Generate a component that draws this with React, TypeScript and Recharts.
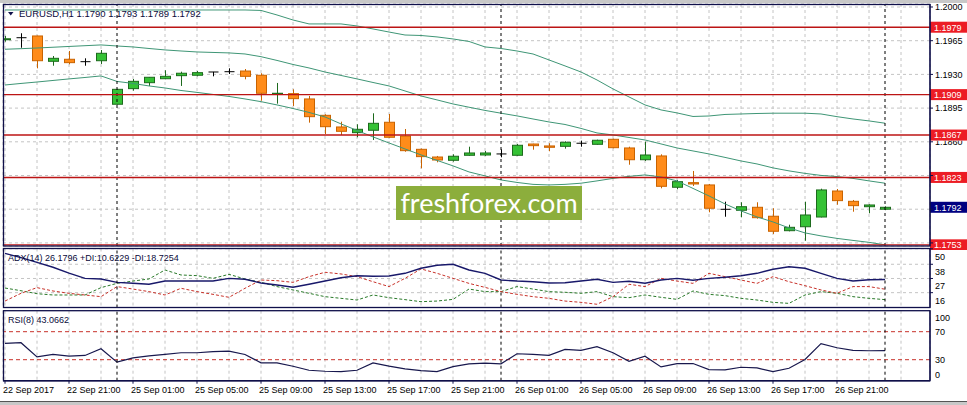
import React from "react";
import { ComposedChart, Bar, Line, XAxis, YAxis, CartesianGrid, ReferenceLine } from "recharts";

// EURUSD H1, 22 Sep 17:00 .. 27 Sep 00:00
const opens = [1.1966, 1.19681, 1.19699, 1.19436, 1.19457, 1.19432, 1.19442, 1.1899, 1.19152, 1.19214, 1.19255, 1.19287, 1.19291, 1.19325, 1.19328, 1.19335, 1.19291, 1.19093, 1.191, 1.19045, 1.18875, 1.18754, 1.18695, 1.1872, 1.18803, 1.1866, 1.18522, 1.18442, 1.18408, 1.1846, 1.18463, 1.18474, 1.1846, 1.18577, 1.18557, 1.18553, 1.18585, 1.18574, 1.18626, 1.18536, 1.18414, 1.18453, 1.18128, 1.18176, 1.18152, 1.17899, 1.17889, 1.1792, 1.17827, 1.17677, 1.17718, 1.17819, 1.18089, 1.17982, 1.17926, 1.179];
const highs = [1.197, 1.19727, 1.19702, 1.19491, 1.19543, 1.19467, 1.19553, 1.1915, 1.19252, 1.19273, 1.19343, 1.19328, 1.19335, 1.19326, 1.19363, 1.19356, 1.19312, 1.19211, 1.19145, 1.19076, 1.18886, 1.18809, 1.18782, 1.18896, 1.18889, 1.18733, 1.1853, 1.18453, 1.1847, 1.18549, 1.18505, 1.18522, 1.18577, 1.1858, 1.18585, 1.18605, 1.18612, 1.18622, 1.18632, 1.18549, 1.18601, 1.1847, 1.18204, 1.18297, 1.18162, 1.17978, 1.17972, 1.17972, 1.1791, 1.17739, 1.17978, 1.18113, 1.1811, 1.17996, 1.17951, 1.1793];
const lows = [1.1964, 1.19577, 1.19363, 1.1939, 1.19405, 1.1939, 1.19408, 1.18985, 1.19131, 1.1918, 1.1925, 1.1918, 1.1928, 1.1928, 1.19304, 1.19249, 1.19027, 1.18996, 1.18972, 1.18799, 1.18681, 1.18671, 1.18647, 1.18619, 1.1864, 1.18497, 1.18325, 1.18387, 1.18394, 1.18456, 1.18453, 1.18439, 1.18455, 1.18518, 1.18502, 1.18529, 1.18549, 1.1857, 1.18533, 1.18362, 1.18401, 1.18117, 1.18107, 1.18141, 1.17868, 1.17822, 1.17816, 1.17802, 1.17643, 1.1767, 1.17573, 1.17815, 1.17947, 1.17874, 1.17858, 1.1789];
const closes = [1.1967, 1.19681, 1.19442, 1.19467, 1.19422, 1.19432, 1.19519, 1.19145, 1.19228, 1.1927, 1.1928, 1.19312, 1.19318, 1.19325, 1.19328, 1.1928, 1.19104, 1.19104, 1.19048, 1.18861, 1.18757, 1.18709, 1.1873, 1.18792, 1.18647, 1.18508, 1.18446, 1.18411, 1.1845, 1.18484, 1.18484, 1.18474, 1.18564, 1.1856, 1.18543, 1.18595, 1.18585, 1.18616, 1.18539, 1.18414, 1.18463, 1.18138, 1.18186, 1.18162, 1.1791, 1.17899, 1.17926, 1.17812, 1.17671, 1.17712, 1.1784, 1.181, 1.17989, 1.17937, 1.17944, 1.1792];

// Bollinger bands
const bbUpper = [1.19969, 1.19969, 1.19969, 1.19969, 1.19969, 1.19969, 1.19969, 1.19969, 1.19969, 1.19969, 1.19969, 1.19969, 1.19969, 1.19969, 1.19969, 1.19969, 1.19964, 1.19917, 1.19865, 1.19824, 1.19824, 1.19824, 1.19803, 1.19772, 1.1974, 1.19709, 1.19704, 1.19689, 1.19668, 1.19642, 1.19585, 1.19569, 1.19543, 1.19512, 1.1945, 1.19388, 1.19325, 1.19242, 1.19149, 1.19066, 1.18983, 1.18931, 1.189, 1.18863, 1.18868, 1.18884, 1.18889, 1.18894, 1.18897, 1.18897, 1.18897, 1.18889, 1.18861, 1.18837, 1.18817, 1.18793];
const bbMiddle = [1.19561, 1.19567, 1.19574, 1.19582, 1.1959, 1.19598, 1.19606, 1.19595, 1.19585, 1.19569, 1.19554, 1.19543, 1.19533, 1.19528, 1.19523, 1.19512, 1.19484, 1.19445, 1.19403, 1.19367, 1.19325, 1.19289, 1.19253, 1.19216, 1.1918, 1.19128, 1.19076, 1.19035, 1.18993, 1.18959, 1.18926, 1.18897, 1.18869, 1.18837, 1.18806, 1.1878, 1.18739, 1.18692, 1.18671, 1.18645, 1.18619, 1.18578, 1.18536, 1.18505, 1.18474, 1.18438, 1.18401, 1.1837, 1.18329, 1.18298, 1.18272, 1.18251, 1.18239, 1.1822, 1.18194, 1.1817];
const bbLower = [1.1919, 1.19206, 1.19221, 1.19237, 1.19253, 1.19268, 1.19284, 1.19227, 1.19206, 1.1918, 1.19159, 1.19133, 1.19113, 1.19092, 1.19071, 1.19045, 1.19017, 1.18983, 1.18946, 1.18905, 1.18858, 1.18786, 1.18718, 1.18651, 1.18588, 1.18526, 1.18464, 1.18407, 1.1835, 1.18287, 1.18246, 1.18204, 1.18178, 1.18158, 1.18152, 1.18158, 1.1817, 1.18194, 1.1822, 1.18241, 1.18256, 1.18235, 1.18194, 1.18116, 1.18038, 1.17955, 1.17882, 1.1782, 1.17768, 1.17706, 1.17654, 1.17623, 1.17597, 1.17576, 1.17556, 1.1753];

// ADX(14)
const adxMain = [46.5, 43.1, 39.5, 35.7, 31.2, 27.1, 26.6, 24.0, 23.3, 22.5, 25.0, 25.0, 25.0, 25.0, 27.1, 26.4, 23.5, 21.9, 20.2, 22.5, 25.0, 27.6, 29.1, 28.7, 28.9, 31.0, 34.9, 37.2, 38.0, 33.6, 31.0, 25.8, 25.0, 24.5, 23.5, 23.7, 25.0, 26.4, 24.0, 24.8, 23.3, 25.8, 27.1, 25.6, 27.1, 27.9, 29.1, 31.0, 34.1, 36.1, 34.9, 31.0, 27.1, 25.0, 26.0, 26.2];
const plusDi = [19.6, 17.5, 15.2, 14.2, 14.2, 14.2, 19.9, 23.2, 25.0, 26.6, 33.6, 29.7, 29.2, 27.1, 30.2, 26.6, 24.0, 20.7, 18.1, 15.5, 12.9, 11.6, 10.3, 14.2, 12.1, 10.6, 9.0, 9.5, 10.8, 18.8, 16.8, 16.8, 20.7, 18.8, 16.8, 16.3, 15.5, 16.8, 12.9, 12.1, 14.2, 12.4, 10.8, 17.3, 14.7, 13.7, 11.6, 10.3, 8.5, 7.7, 14.2, 16.8, 15.5, 12.9, 11.6, 10.6];
const minusDi = [9.5, 15.5, 19.9, 17.3, 15.5, 14.2, 12.9, 20.7, 18.8, 16.8, 14.2, 19.4, 16.8, 14.7, 12.4, 19.4, 25.8, 25.3, 24.0, 28.4, 31.8, 30.5, 28.4, 24.5, 20.7, 27.1, 34.4, 31.0, 27.1, 23.2, 20.1, 16.8, 14.7, 12.9, 11.6, 9.5, 8.5, 7.0, 12.9, 22.5, 20.7, 27.1, 25.0, 23.2, 31.0, 28.4, 25.8, 23.2, 28.4, 24.5, 21.4, 18.1, 15.5, 20.7, 20.7, 18.7];

// RSI(8)
const rsi = [53.4, 54.3, 34.1, 37.5, 35.1, 36.1, 45.7, 26.5, 32.7, 35.6, 37.5, 39.9, 39.9, 41.4, 42.3, 37.5, 25.5, 25.5, 20.7, 14.9, 13.5, 13.0, 14.9, 25.5, 20.7, 16.9, 14.4, 13.0, 20.2, 24.1, 25.0, 24.1, 38.5, 37.5, 36.1, 44.7, 43.3, 48.6, 39.9, 27.8, 35.1, 19.7, 24.5, 24.5, 15.9, 15.4, 19.2, 18.3, 13.0, 17.8, 30.3, 52.9, 47.1, 43.3, 42.8, 43.1];

const tickLabels = ["22 Sep 2017", "22 Sep 21:00", "25 Sep 01:00", "25 Sep 05:00", "25 Sep 09:00", "25 Sep 13:00", "25 Sep 17:00", "25 Sep 21:00", "26 Sep 01:00", "26 Sep 05:00", "26 Sep 09:00", "26 Sep 13:00", "26 Sep 17:00", "26 Sep 21:00"];
const priceTicks = [1.2, 1.1965, 1.193, 1.1895, 1.186, 1.1825, 1.179, 1.1755];
const hiddenPriceTicks = [1.1825, 1.179, 1.1755]; // covered by the price tags
const levels = [1.1979, 1.1909, 1.1867, 1.1823, 1.1753];
const lastPrice = 1.1792;
const daySeparators = [7, 31, 55];
const adxTicks = [50, 38, 27, 16];
const rsiTicks = [100, 70, 30, 0];
const rsiLevels = [70, 30];

const data = opens.map((o, k) => ({
  k,
  open: o,
  high: highs[k],
  low: lows[k],
  close: closes[k],
  range: [lows[k], highs[k]],
  upper: bbUpper[k],
  middle: bbMiddle[k],
  lower: bbLower[k],
  adx: adxMain[k],
  pdi: plusDi[k],
  mdi: minusDi[k],
  rsi: rsi[k],
}));

const gridTicks: number[] = [];
for (let k = 0; k <= 56; k += 2) gridTicks.push(k);

const X_DOMAIN: [number, number] = [-0.125, 57.8125];
const FONT = "'Liberation Sans', Arial, sans-serif";
const NAVY = "#10104a";
const GRID = "#c4c4c4";
const BAND = "#3f9676";

function Candle(props: any) {
  const { x, y, width, height, payload } = props;
  if (x == null || !payload) return <g />;
  const top = Math.min(y, y + height);
  const h = Math.abs(height);
  const { open, close, high, low } = payload;
  const span = high - low || 1e-9;
  const yOf = (v: number) => top + ((high - v) / span) * h;
  const cx = Math.round(x + width / 2) + 0.5;
  const yo = yOf(open);
  const yc = yOf(close);
  if (Math.abs(open - close) < 0.00002) {
    return (
      <g>
        <line x1={cx} x2={cx} y1={top} y2={top + h} stroke="#000" />
        <line x1={cx - 5} x2={cx + 5} y1={yo} y2={yo} stroke="#000" />
      </g>
    );
  }
  const bull = close > open;
  const edge = bull ? "#1d6a1d" : "#c96300";
  return (
    <g>
      <line x1={cx} x2={cx} y1={top} y2={top + h} stroke={edge} />
      <rect x={cx - 5} y={Math.min(yo, yc)} width={10} height={Math.max(1, Math.abs(yc - yo))} fill={bull ? "#35c235" : "#ff8c1a"} stroke={edge} />
    </g>
  );
}

function PriceTag({ viewBox, price, bg }: any) {
  if (!viewBox) return <g />;
  const x = viewBox.x + viewBox.width;
  const y = viewBox.y;
  return (
    <g>
      <rect x={x} y={y - 5.5} width={37} height={11} fill={bg} />
      <text x={x + 4} y={y + 3.3} fontSize={9} fill="#fff" fontFamily={FONT}>{price.toFixed(4)}</text>
    </g>
  );
}

function PriceTick({ x, y, payload }: any) {
  const v = payload.value;
  if (hiddenPriceTicks.some((h) => Math.abs(h - v) < 1e-6)) return <g />;
  // 1.1860 sits half under the 1.1867 tag: show only its lower part
  const clip = Math.abs(v - 1.186) < 1e-6;
  return (
    <g>
      {clip && (
        <defs>
          <clipPath id="clip1860">
            <rect x={x - 2} y={y - 1} width={40} height={10} />
          </clipPath>
        </defs>
      )}
      <text x={x} y={y + 3.2} fontSize={9} fill="#000" fontFamily={FONT} clipPath={clip ? "url(#clip1860)" : undefined}>
        {v.toFixed(4)}
      </text>
    </g>
  );
}

function AdxTick({ x, y, payload }: any) {
  return <text x={x} y={y + 11} fontSize={9} fill="#000" fontFamily={FONT}>{payload.value}</text>;
}

function RsiTick({ x, y, payload }: any) {
  const v = payload.value;
  const dy = v === 100 ? 6.6 : v === 0 ? -6.4 : 0;
  return <text x={x} y={y + dy + 3.2} fontSize={9} fill="#000" fontFamily={FONT}>{v}</text>;
}

function DateTick({ x, y, payload }: any) {
  const k = payload.value;
  const label = k % 4 === 0 ? tickLabels[k / 4] : undefined;
  if (!label) return <g />;
  return (
    <g>
      <line x1={x} x2={x} y1={y} y2={y + 3} stroke={NAVY} />
      <text x={x - 2} y={y + 12.5} fontSize={9} fill="#000" fontFamily={FONT}>{label}</text>
    </g>
  );
}

const separators = daySeparators.map((k) => (
  <ReferenceLine key={"sep" + k} x={k} stroke="#000" strokeDasharray="3 3" />
));

export default function App() {
  return (
    <div style={{ position: "relative", width: 967, height: 405, background: "#fff", overflow: "hidden", fontFamily: FONT }}>
      <style>{"body{margin:0}"}</style>

      <div style={{ position: "absolute", left: 0, top: 0 }}>
        <ComposedChart width={967} height={250} data={data} margin={{ top: 4, right: 0, bottom: 4, left: 3 }}>
          <CartesianGrid stroke={GRID} strokeDasharray="3 3" />
          <XAxis type="number" dataKey="k" domain={X_DOMAIN} ticks={gridTicks} interval={0} allowDataOverflow hide />
          <YAxis orientation="right" width={37} domain={[1.17518, 1.20031]} allowDataOverflow ticks={priceTicks} interval={0}
            tick={<PriceTick />} tickSize={3} tickMargin={2} axisLine={{ stroke: NAVY }} tickLine={{ stroke: NAVY }} />
          <Line type="linear" dataKey="upper" stroke={BAND} dot={false} isAnimationActive={false} />
          <Line type="linear" dataKey="middle" stroke={BAND} dot={false} isAnimationActive={false} />
          <Line type="linear" dataKey="lower" stroke={BAND} dot={false} isAnimationActive={false} />
          <Bar dataKey="range" barSize={10} shape={<Candle />} isAnimationActive={false} />
          {separators}
          {levels.map((lv) => (
            <ReferenceLine key={lv} y={lv} stroke="#bc1414" strokeWidth={1.4} label={<PriceTag price={lv} bg="#ec1c24" />} />
          ))}
          <ReferenceLine y={lastPrice} stroke="none" label={<PriceTag price={lastPrice} bg="#000080" />} />
        </ComposedChart>
      </div>

      <div style={{ position: "absolute", left: 0, top: 246 }}>
        <ComposedChart width={967} height={64} data={data} margin={{ top: 2.5, right: 0, bottom: 2.5, left: 3 }}>
          <CartesianGrid stroke={GRID} strokeDasharray="3 3" />
          <XAxis type="number" dataKey="k" domain={X_DOMAIN} ticks={gridTicks} interval={0} allowDataOverflow hide />
          <YAxis orientation="right" width={37} domain={[4.5, 50.23]} allowDataOverflow ticks={adxTicks} interval={0}
            tick={<AdxTick />} tickSize={3} tickMargin={2} axisLine={{ stroke: NAVY }} tickLine={{ stroke: NAVY }} />
          <Line type="linear" dataKey="pdi" stroke="#2a7a2a" strokeDasharray="3 2" dot={false} isAnimationActive={false} />
          <Line type="linear" dataKey="mdi" stroke="#c8322a" strokeDasharray="3 2" dot={false} isAnimationActive={false} />
          <Line type="linear" dataKey="adx" stroke="#18186a" strokeWidth={1.4} dot={false} isAnimationActive={false} />
          {separators}
        </ComposedChart>
      </div>

      <div style={{ position: "absolute", left: 0, top: 308 }}>
        <ComposedChart width={967} height={97} data={data} margin={{ top: 2.7, right: 0, bottom: 4.3, left: 3 }}>
          <CartesianGrid stroke={GRID} strokeDasharray="3 3" horizontal={false} />
          <XAxis type="number" dataKey="k" domain={X_DOMAIN} ticks={gridTicks} interval={0} allowDataOverflow height={20}
            tick={<DateTick />} tickSize={0} tickMargin={0} tickLine={false} axisLine={{ stroke: NAVY, strokeWidth: 1.5 }} />
          <YAxis orientation="right" width={37} domain={[0, 100]} allowDataOverflow ticks={rsiTicks} interval={0}
            tick={<RsiTick />} tickSize={3} tickMargin={2} axisLine={{ stroke: NAVY }} tickLine={false} />
          {rsiLevels.map((lv) => (
            <ReferenceLine key={lv} y={lv} stroke="#c8322a" strokeDasharray="4 3" />
          ))}
          <Line type="linear" dataKey="rsi" stroke="#18184e" strokeWidth={1.2} dot={false} isAnimationActive={false} />
          {separators}
        </ComposedChart>
      </div>

      <svg width={967} height={405} style={{ position: "absolute", left: 0, top: 0, pointerEvents: "none" }}>
        <rect x={0} y={0} width={967} height={3} fill="#c8c8c8" />
        <rect x={0} y={401} width={967} height={4} fill="#c8c8c8" />
        <line x1={0} x2={967} y1={401.5} y2={401.5} stroke="#555" />
        <rect x={3.5} y={4.5} width={926.5} height={241.5} fill="none" stroke={NAVY} strokeWidth={1.3} />
        <rect x={3.5} y={248.5} width={926.5} height={59} fill="none" stroke={NAVY} strokeWidth={1.3} />
        <rect x={3.5} y={310.7} width={926.5} height={70} fill="none" stroke={NAVY} strokeWidth={1.3} />
        <polygon points="8,12 13.5,12 10.75,15.5" fill={NAVY} />
        <text x={19} y={16.6} fontSize={9.5} fill="#0a0a3a" fontFamily={FONT}>EURUSD,H1  1.1790 1.1793 1.1789 1.1792</text>
        <text x={8} y={260.8} fontSize={9} fill="#0a0a3a" fontFamily={FONT}>ADX(14) 26.1796 +DI:10.6229 -DI:18.7254</text>
        <text x={8} y={322.6} fontSize={9} fill="#0a0a3a" fontFamily={FONT}>RSI(8) 43.0662</text>
      </svg>

      <div style={{ position: "absolute", left: 396, top: 186, width: 186, height: 34, background: "#8cae3c", color: "#fff",
        fontFamily: "Lato, 'Open Sans', sans-serif", fontSize: 27, lineHeight: "34px", textAlign: "center" }}>
        freshforex.com
      </div>
    </div>
  );
}
